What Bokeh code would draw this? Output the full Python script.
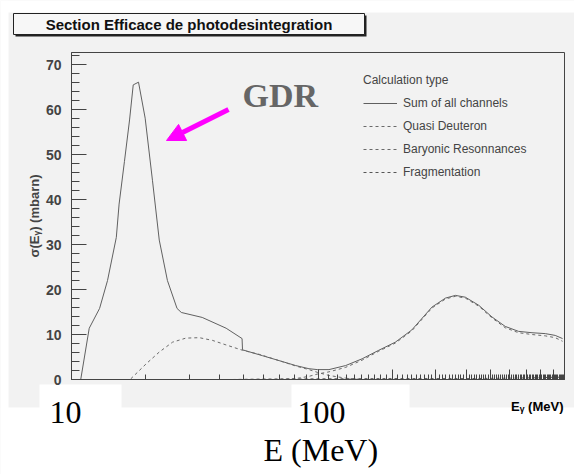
from bokeh.plotting import figure
from bokeh.models import (Range1d, SingleIntervalTicker, LogTicker, Label, BoxAnnotation,
                          Arrow, NormalHead, Legend, LegendItem, CustomJSTickFormatter,
                          LinearAxis, LogAxis)
from bokeh.embed import file_html
from bokeh.resources import INLINE

# ---- data ----
sum_E = [10.9, 11.8, 13.0, 14.0, 15.2, 15.6, 16.4, 17.2, 17.8, 18.7, 19.9, 21.3, 22.7, 24.5, 26.8,
         27.9, 33.9, 42.4, 49.2, 49.4, 59.5, 69.5, 81.2, 91.9, 99.3, 110.8, 129.5, 151, 176.5,
         206, 240, 290, 329, 361, 396, 449, 508, 575, 651, 738, 836, 917, 982]
sum_sigma = [0, 11.4, 15.8, 22, 31.6, 39, 48.5, 57.7, 65.5, 66.1, 58.1, 44.3, 31, 22, 15.8,
             14.9, 13.8, 11.4, 9.1, 6.6, 5.3, 4.2, 3.1, 2.4, 2.2, 2.2, 3.1, 4.6, 6.5,
             8.3, 11.0, 16.1, 18.1, 18.7, 18.3, 16.5, 13.9, 11.8, 10.7, 10.4, 10.2, 9.8, 9.1]

qd_E = [17.4, 20.1, 22.7, 25.7, 29.1, 33.0, 37.3, 42.3, 49.4, 57.7, 69.5, 81.2, 91.9, 99.3,
        110.8, 129.5, 151, 200]
qd_sigma = [0.15, 3.5, 6.1, 8.3, 9.2, 9.3, 8.7, 7.7, 6.5, 5.6, 4.2, 3.0, 2.2, 1.6,
            0.9, 0.3, 0.0, 0.0]

br_E = [70, 81.2, 91.9, 99.3, 110.8, 129.5, 151, 176.5, 206, 240, 290, 329, 361, 396, 449,
        508, 575, 651, 738, 836, 917, 982]
br_sigma = [0.05, 0.2, 0.7, 1.2, 1.7, 2.7, 4.3, 6.3, 8.1, 10.8, 15.9, 17.9, 18.5, 18.1, 16.3,
            13.7, 11.5, 10.4, 10.0, 9.7, 9.3, 8.5]

frag_E = [45, 60, 100, 200, 400, 600, 800, 900, 1000]
frag_sigma = [0.0, 0.1, 0.15, 0.2, 0.2, 0.3, 0.4, 0.5, 0.5]

series_names = ["Sum of all channels", "Quasi Deuteron", "Baryonic Resonnances", "Fragmentation"]

x_min, x_max = 10, 1000
y_min, y_max = 0, 72.7
y_ticks_interval = 10
x_tick_labels = ["10", "100"]

# ---- layout (page pixels) ----
W, H = 574, 474
FL, FT, FR, FB = 71, 52, 564, 379     # edges of the plot box on the page

# the Bokeh frame fills the whole canvas; the ranges are widened so that
# [x_min, x_max] x [y_min, y_max] lands on the plot box above
dec_px = (FR - FL) / 2.0
unit_px = (FB - FT) / (y_max - y_min)
xr = Range1d(10 ** (1 - FL / dec_px), 10 ** (3 + (W - FR) / dec_px))
yr = Range1d(y_min - (H - FB) / unit_px, y_max + FT / unit_px)


def sy(Y):   # page y -> screen y (upwards from the bottom)
    return H - Y


GRAY = "#f2f2f2"
DARK = "#444444"
p = figure(width=W, height=H, x_axis_type="log", x_axis_location=None, y_axis_location=None,
           output_backend="svg", toolbar_location=None, x_range=xr, y_range=yr,
           min_border=0, min_border_left=0, min_border_right=0, min_border_top=0, min_border_bottom=0)
p.border_fill_color = "white"
p.background_fill_color = GRAY
p.outline_line_color = None
p.grid.visible = False


def sbox(x0, x1, y0, y1, **kw):
    return BoxAnnotation(left=x0, right=x1, top=sy(y0), bottom=sy(y1),
                         left_units="screen", right_units="screen",
                         top_units="screen", bottom_units="screen", **kw)


# white page outside the gray ROOT canvas, and white patches over the tick labels
for b in [(0, W, 0, 12), (0, 8, 0, H), (0, W, 407, H), (39, 121, 384, H), (291, 409, 384, H)]:
    p.add_layout(sbox(*b, fill_color="white", fill_alpha=1, line_color=None, level="underlay"))

# plot box outline
p.add_layout(BoxAnnotation(left=x_min, right=x_max, bottom=y_min, top=y_max,
                           fill_alpha=0, line_color=DARK, line_alpha=1, line_width=1, level="underlay"))

# axes drawn at the plot-box edges
ya = LinearAxis(fixed_location=x_min, bounds=(y_min, y_max))
ya.ticker = SingleIntervalTicker(interval=y_ticks_interval, num_minor_ticks=5)
ya.major_tick_in = 15; ya.major_tick_out = 0
ya.minor_tick_in = 8; ya.minor_tick_out = 0
ya.axis_line_color = DARK; ya.major_tick_line_color = DARK; ya.minor_tick_line_color = DARK
ya.major_label_text_font = "Liberation Sans"; ya.major_label_text_font_style = "bold"
ya.major_label_text_font_size = "14px"; ya.major_label_standoff = 10
ya.axis_label = "σ(Eᵧ) (mbarn)"
ya.axis_label_text_font = "Liberation Sans"; ya.axis_label_text_font_style = "bold"
ya.axis_label_text_font_size = "13px"; ya.axis_label_standoff = 1
p.add_layout(ya, "left")

xa = LogAxis(fixed_location=y_min, bounds=(x_min, x_max))
xa.ticker = LogTicker(num_minor_ticks=10)
xa.major_tick_in = 10; xa.major_tick_out = 0
xa.minor_tick_in = 5; xa.minor_tick_out = 0
xa.axis_line_color = DARK; xa.major_tick_line_color = DARK; xa.minor_tick_line_color = DARK
xa.formatter = CustomJSTickFormatter(code="return ''")
p.add_layout(xa, "below")

# curves
LINE = "#6a6a6a"
r_sum = p.line(sum_E, sum_sigma, line_color="#606060", line_width=1)
r_qd = p.line(qd_E, qd_sigma, line_color=LINE, line_width=1, line_dash="3 3")
r_br = p.line(br_E, br_sigma, line_color=LINE, line_width=1, line_dash="3 3")
r_fr = p.line(frag_E, frag_sigma, line_color="#555555", line_width=1, line_dash="3 3")

legend = Legend(items=[LegendItem(label=n, renderers=[r]) for n, r in
                       zip(series_names, [r_sum, r_qd, r_br, r_fr])],
                location=(363, sy(182)), title="Calculation type",
                title_text_font="Liberation Sans", title_text_font_size="12px", title_text_font_style="normal",
                label_text_font="Liberation Sans", label_text_font_size="12px",
                glyph_width=34, glyph_height=20, label_height=20, spacing=3, label_standoff=6,
                padding=0, margin=0, title_standoff=6,
                background_fill_alpha=0, border_line_color=None)
p.add_layout(legend)

# title box (with the small ROOT shadow)
p.add_layout(sbox(15, 366, 15, 36, fill_color="#222222", fill_alpha=1, line_color=None))
p.add_layout(sbox(13, 364, 13, 34, fill_color="#f7f7f7", fill_alpha=1,
                  line_color="#222222", line_alpha=1, line_width=1))
p.add_layout(Label(x=188.5, y=sy(23.5), x_units="screen", y_units="screen",
                   text="Section Efficace de photodesintegration", text_font="Liberation Sans",
                   text_font_style="bold", text_font_size="15px", text_align="center",
                   text_baseline="middle", text_color="#111111"))

for txt, X in zip(x_tick_labels, [49, 297]):
    p.add_layout(Label(x=X, y=sy(411.5), x_units="screen", y_units="screen", text=txt,
                       text_font="Liberation Serif", text_font_size="32px", text_baseline="middle",
                       text_color="black"))

p.add_layout(Label(x=263, y=sy(449.5), x_units="screen", y_units="screen", text="E (MeV)",
                   text_font="Liberation Serif", text_font_size="32px", text_baseline="middle",
                   text_color="black"))

p.add_layout(Label(x=563, y=sy(406), x_units="screen", y_units="screen", text="Eᵧ (MeV)",
                   text_font="Liberation Sans", text_font_style="bold", text_font_size="13px",
                   text_align="right", text_baseline="middle", text_color="black"))

# GDR annotation
p.add_layout(Label(x=242, y=sy(94.5), x_units="screen", y_units="screen", text="GDR",
                   text_font="Liberation Serif", text_font_style="bold", text_font_size="34px",
                   text_baseline="middle", text_color="#666666"))
p.add_layout(Arrow(x_start=228, y_start=sy(109), x_end=166, y_end=sy(140),
                   start_units="screen", end_units="screen",
                   line_color="#ff00ff", line_width=5,
                   end=NormalHead(size=18, fill_color="#ff00ff", line_color="#ff00ff")))

open("out.html", "w").write(file_html(p, INLINE))
